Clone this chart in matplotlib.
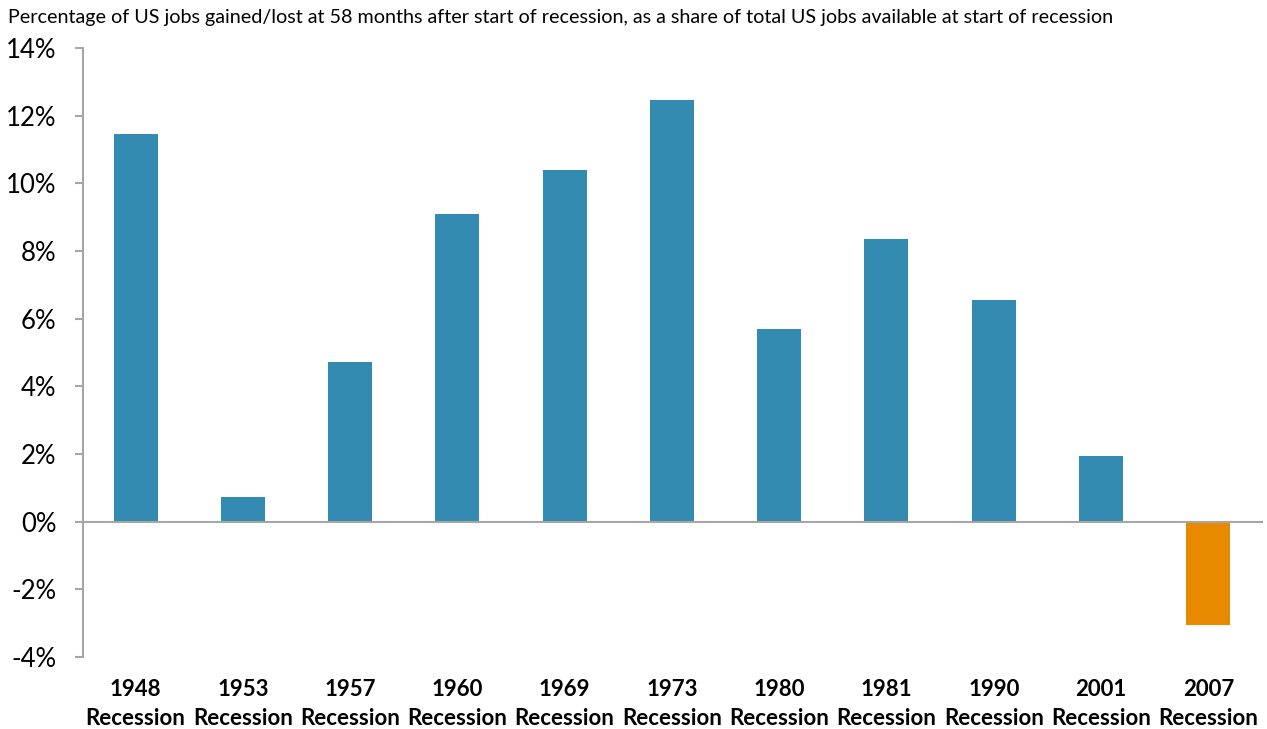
import matplotlib
matplotlib.use('Agg')
from matplotlib import pyplot as plt
from matplotlib.ticker import FuncFormatter, MultipleLocator

plt.rcParams['font.family'] = ['Lato', 'DejaVu Sans']

years = ['1948', '1953', '1957', '1960', '1969', '1973',
         '1980', '1981', '1990', '2001', '2007']
pct_change = [11.45, 0.74, 4.73, 9.10, 10.38, 12.47,
              5.68, 8.34, 6.56, 1.95, -3.04]

BLUE = '#348bb2'
ORANGE = '#e78a00'
GRAY = '#a6a6a6'


def main():
    fig = plt.figure(figsize=(12.67, 7.29), dpi=100)
    ax = fig.add_axes([83 / 1267, 1 - 657 / 729, 1180 / 1267, 609 / 729])

    colors = [ORANGE if v < 0 else BLUE for v in pct_change]
    x = list(range(len(years)))
    ax.bar(x, pct_change, width=0.41, color=colors, zorder=2)

    ax.set_ylim(-4, 14)
    ax.set_xlim(-0.49, len(years) - 0.49)
    ax.yaxis.set_major_locator(MultipleLocator(2))
    ax.yaxis.set_major_formatter(FuncFormatter(lambda v, p: f"{v:.0f}%"))
    ax.axhline(0, color=GRAY, lw=1.5, zorder=3)

    for side in ['top', 'right', 'bottom']:
        ax.spines[side].set_visible(False)
    ax.spines['left'].set_color(GRAY)
    ax.spines['left'].set_linewidth(1.5)
    ax.tick_params(axis='y', length=6, width=1.5, color=GRAY,
                   labelsize=18.5, pad=13)
    ax.tick_params(axis='x', length=0, pad=16)

    ax.set_xticks(x)
    ax.set_xticklabels([f"{y}\nRecession" for y in years],
                       fontsize=16, fontweight='bold', linespacing=1.45)

    fig.text(8 / 1267, 1 - 17 / 729,
             "Percentage of US jobs gained/lost at 58 months after start "
             "of recession, as a share of total US jobs available at start "
             "of recession", fontsize=14.2, va='center', ha='left')

    fig.savefig('out.png', dpi=100)


if __name__ == '__main__':
    main()
